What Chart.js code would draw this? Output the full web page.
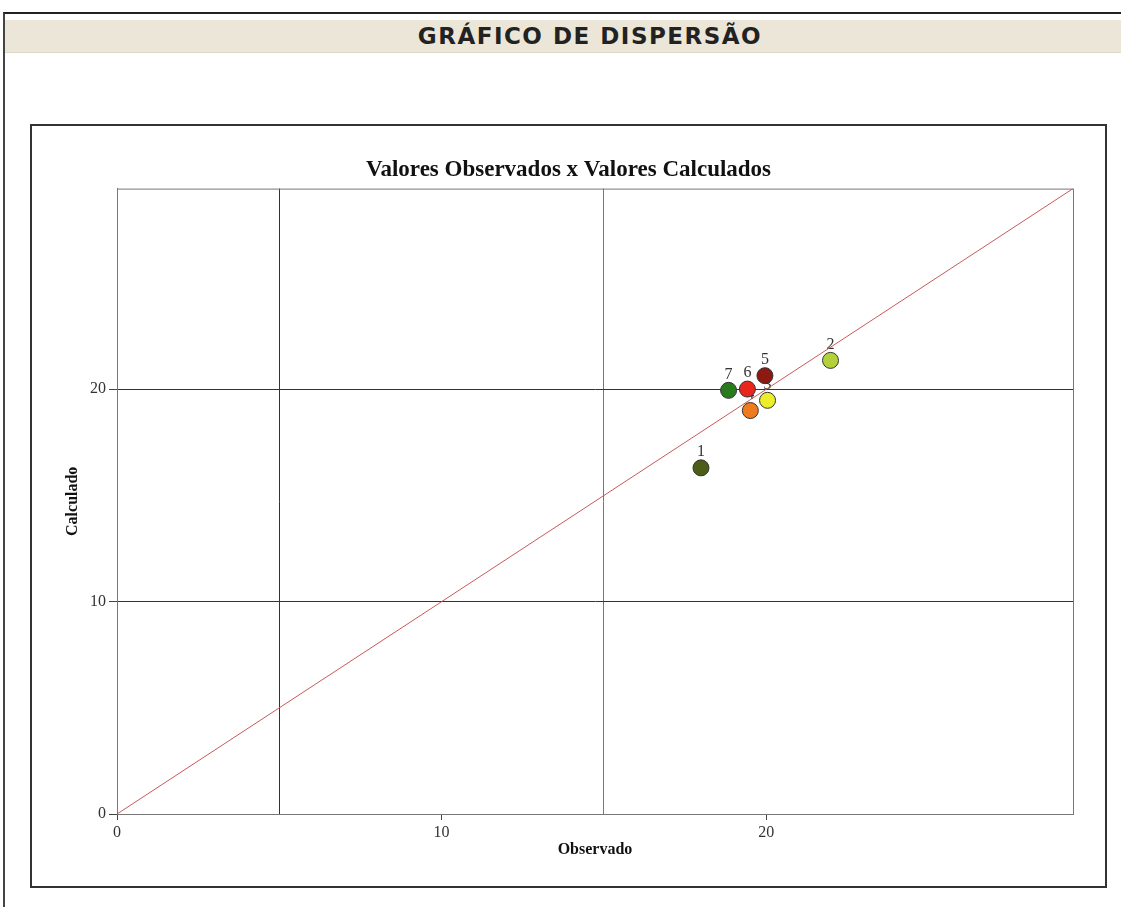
<!DOCTYPE html>
<html>
<head>
<meta charset="utf-8">
<script src="https://cdn.jsdelivr.net/npm/chart.js@4"></script>
<style>
  html, body { margin: 0; padding: 0; background: #fff; overflow: hidden; }
  #frame { position: absolute; left: 3px; top: 12px; width: 1200px; height: 920px;
           border-top: 2px solid #222; border-left: 2px solid #444; }
  #header { position: absolute; left: 5px; top: 20px; width: 1170px; height: 32px;
            background: #ebe6d7; border-bottom: 1px solid #ddd8c8;
            font-family: "DejaVu Sans", sans-serif; font-weight: bold; font-size: 23px;
            letter-spacing: 1.5px; color: #222; text-align: center; line-height: 32px; }
  #box { position: absolute; left: 30px; top: 124px; width: 1073px; height: 760px;
         border: 2px solid #333; background: #fff; }
  #chartWrap { position: absolute; left: 0; top: 0; width: 1073px; height: 760px; }
</style>
</head>
<body>
<div id="frame"></div>
<div id="header">GRÁFICO DE DISPERSÃO</div>
<div id="box"><div id="chartWrap"><canvas id="scatter"></canvas></div></div>
<script>
// pontos (observado x calculado)
const pointLabels = ["1", "2", "3", "4", "5", "6", "7"];
const observado = [17.99, 21.98, 20.04, 19.51, 19.96, 19.42, 18.84];
const calculado = [16.30, 21.36, 19.48, 19.00, 20.64, 20.01, 19.95];
const pointColors = ["#4b5d16", "#b3d23a", "#eded2a", "#f07a1e", "#8c1a12", "#e8261c", "#2a7a1e"];

// eixos
const axisMax = 29.45;
const xTicks = [0, 5, 10, 15, 20];
const xLabelTicks = [0, 10, 20];
const yTicks = [0, 10, 20];

const serif = '"Liberation Serif", "Times New Roman", serif';

// numbers above each point (drawn under the markers)
const labelPlugin = {
  id: "pointLabels",
  beforeDatasetsDraw(chart) {
    const { ctx } = chart;
    const meta = chart.getDatasetMeta(0);
    ctx.save();
    ctx.font = "16px " + serif;
    ctx.fillStyle = "#333";
    ctx.textAlign = "center";
    ctx.textBaseline = "middle";
    meta.data.forEach((pt, i) => {
      ctx.fillText(pointLabels[i], pt.x, pt.y - 16);
    });
    ctx.restore();
  }
};

// frame round the plot area
const frameBorder = {
  id: "frameBorder",
  afterDraw(chart) {
    const { ctx, chartArea: a } = chart;
    ctx.save();
    ctx.strokeStyle = "#777";
    ctx.lineWidth = 1;
    ctx.strokeRect(a.left + 0.5, a.top + 0.5, a.right - a.left, a.bottom - a.top);
    ctx.restore();
  }
};

const ctx = document.getElementById("scatter").getContext("2d");
new Chart(ctx, {
  type: "scatter",
  data: {
    datasets: [
      {
        label: "Pontos",
        data: observado.map((x, i) => ({ x, y: calculado[i] })),
        backgroundColor: pointColors,
        borderColor: "#333",
        borderWidth: 1,
        pointRadius: 8,
        order: 0
      },
      {
        type: "line",
        label: "y = x",
        data: [{ x: 0, y: 0 }, { x: axisMax, y: axisMax }],
        borderColor: "#c95a5a",
        borderWidth: 1,
        pointRadius: 0,
        fill: false,
        order: 1
      }
    ]
  },
  options: {
    responsive: true,
    maintainAspectRatio: false,
    animation: false,
    layout: { padding: { left: 0, right: 0, top: 0, bottom: 24 } },
    plugins: {
      legend: { display: false },
      tooltip: { enabled: false },
      title: {
        display: true,
        text: "Valores Observados x Valores Calculados",
        color: "#111",
        font: { family: serif, size: 23, weight: "bold", lineHeight: 1.2 },
        padding: { top: 30, bottom: 5 }
      }
    },
    scales: {
      x: {
        type: "linear",
        min: 0,
        max: axisMax,
        afterBuildTicks: s => { s.ticks = xTicks.map(v => ({ value: v })); },
        afterFit: s => { s.height = 48; },
        ticks: {
          color: "#333",
          padding: 3,
          maxRotation: 0,
          font: { family: serif, size: 16 },
          callback: v => (xLabelTicks.includes(v) ? String(v) : "")
        },
        grid: {
          tickLength: 6,
          lineWidth: 1,
          color: c => (c.tick && c.tick.value === 5 ? "#333" : c.tick && c.tick.value === 15 ? "#777" : "rgba(0,0,0,0)"),
          tickColor: c => (c.tick && xLabelTicks.includes(c.tick.value) ? "#444" : "rgba(0,0,0,0)")
        },
        border: { display: true, color: "#777" },
        title: {
          display: true,
          text: "Observado",
          color: "#111",
          font: { family: serif, size: 16, weight: "bold", lineHeight: 1.2 },
          padding: { top: 0, bottom: 3 }
        }
      },
      y: {
        type: "linear",
        min: 0,
        max: axisMax,
        afterBuildTicks: s => { s.ticks = yTicks.map(v => ({ value: v })); },
        afterFit: s => { s.width = 85; },
        ticks: {
          color: "#333",
          padding: 3,
          font: { family: serif, size: 16 }
        },
        grid: {
          tickLength: 8,
          lineWidth: 1,
          color: c => (c.tick && c.tick.value > 0 ? "#333" : "rgba(0,0,0,0)"),
          tickColor: "#444"
        },
        border: { display: true, color: "#777" },
        title: {
          display: true,
          text: "Calculado",
          color: "#111",
          font: { family: serif, size: 16, weight: "bold", lineHeight: 1.2 },
          padding: { top: 31, bottom: 0 }
        }
      },
      // empty right-hand margin so the title stays centred on the whole box
      yRight: {
        type: "linear",
        position: "right",
        min: 0,
        max: axisMax,
        afterFit: s => { s.width = 32; },
        ticks: { display: false },
        grid: { display: false, drawOnChartArea: false },
        border: { display: false }
      }
    }
  },
  plugins: [labelPlugin, frameBorder]
});
</script>
</body>
</html>
